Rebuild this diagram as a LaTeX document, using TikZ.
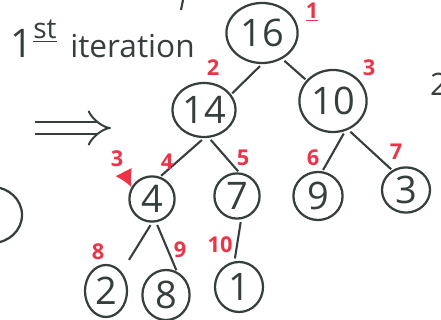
\documentclass[tikz,border=0pt]{standalone}
\usepackage{fontspec}
\setmainfont{Open Sans}
\usetikzlibrary{shapes.geometric,arrows.meta,positioning,calc}
\definecolor{inkgray}{RGB}{55,62,62}
\definecolor{markred}{RGB}{236,52,72}

\tikzset{
    heapnode/.style={ellipse, draw=inkgray, line width=1.6pt, inner sep=0pt, text=inkgray, font=\fontsize{27}{27}\selectfont},
    heapedge/.style={draw=inkgray, line width=1.5pt, shorten <=2pt, shorten >=1pt},
    indexlabel/.style={text=markred, font=\fontsize{15.5}{15.5}\selectfont\bfseries}
}

\begin{document}
\begin{tikzpicture}[x=0.025cm, y=0.025cm]
    \useasboundingbox (0,0) rectangle (441,320);

    % Title
    \node[text=inkgray, anchor=base west, inner sep=0pt, font=\fontsize{28}{28}\selectfont] (one) at (10,262) {1};
    \node[text=inkgray, anchor=base west, inner sep=0pt, font=\fontsize{20}{20}\selectfont] (st) at (33,281) {\underline{st}};
    \node[text=inkgray, anchor=base west, inner sep=0pt, font=\fontsize{22.5}{22.5}\selectfont] (iter) at (70,262) {iteration};

    % Implies arrow
    \coordinate (arrowtail) at (35,192);
    \coordinate (arrowhead) at (111,192);
    \draw[inkgray, line width=1.4pt, double distance=7.5pt, -{Implies}] (arrowtail) -- (arrowhead);

    % Level 0
    \node[heapnode, minimum width=1.78cm, minimum height=1.5cm] (n16) at (262,287) {16};

    % Level 1
    \node[heapnode, minimum width=1.58cm, minimum height=1.35cm] (n14) at (204,210) {14};
    \node[heapnode, minimum width=1.68cm, minimum height=1.55cm] (n10) at (333,219) {10};

    % Level 2
    \node[heapnode, minimum width=1.13cm, minimum height=1.13cm] (n4) at (152,121) {4};
    \node[heapnode, minimum width=1.13cm, minimum height=1.13cm] (n7) at (237,124) {7};
    \node[heapnode, minimum width=1.23cm, minimum height=1.2cm] (n9) at (318,124) {9};
    \node[heapnode, minimum width=1.2cm, minimum height=1.13cm] (n3) at (406,130) {3};

    % Level 3
    \node[heapnode, minimum width=1.05cm, minimum height=1.3cm] (n2) at (106,29) {2};
    \node[heapnode, minimum width=1.18cm, minimum height=1.25cm] (n8) at (166,25) {8};
    \node[heapnode, minimum width=1.2cm, minimum height=1.25cm] (n1) at (239,33) {1};

    % Edges
    \draw[heapedge] (n16.south) -- (n14.30);
    \draw[heapedge] (n16.-52) -- (n10.142);
    \draw[heapedge] (n14.south) -- (n4.70);
    \draw[heapedge] (n14.-80) -- (n7.85);
    \draw[heapedge] (n10.-68) -- (n9.80);
    \draw[heapedge] (n10.-62) -- (n3.125);
    \draw[heapedge, shorten >=10pt] (n4.south) -- (n2.north east);
    \draw[heapedge] (n4.-80) -- (n8.65);
    \draw[heapedge, shorten >=2pt] (n7.-80) -- (n1.100);

    % Array indices
    \node[indexlabel] (i1) at (312,308) {\underline{1}};
    \node[indexlabel] (i2) at (213,252) {2};
    \node[indexlabel] (i3) at (369,252) {3};
    \node[indexlabel] (i4) at (167,158) {4};
    \node[indexlabel] (i5) at (243,162) {5};
    \node[indexlabel] (i6) at (313,162) {6};
    \node[indexlabel] (i7) at (396,168) {7};
    \node[indexlabel] (i8) at (98,68) {8};
    \node[indexlabel] (i9) at (180,70) {9};
    \node[indexlabel] (i10) at (220,75) {10};

    % Current position
    \node[indexlabel] (cur) at (117,161) {3};
    \draw[markred, line width=1.2pt, -{Latex[length=12pt, width=13pt]}] (cur) -- (n4.150);

    % Cut-off parts of the page
    \node[heapnode, minimum width=1.5cm, minimum height=1.4cm] (nleft) at (-8,105) {};
    \node[text=inkgray, font=\fontsize{22}{22}\selectfont] (tworight) at (439,236) {2};
    \coordinate (stroketop) at (183,320);
    \coordinate (strokebot) at (181,310);
    \draw[inkgray, line width=1.5pt] (stroketop) -- (strokebot);
\end{tikzpicture}
\end{document}
